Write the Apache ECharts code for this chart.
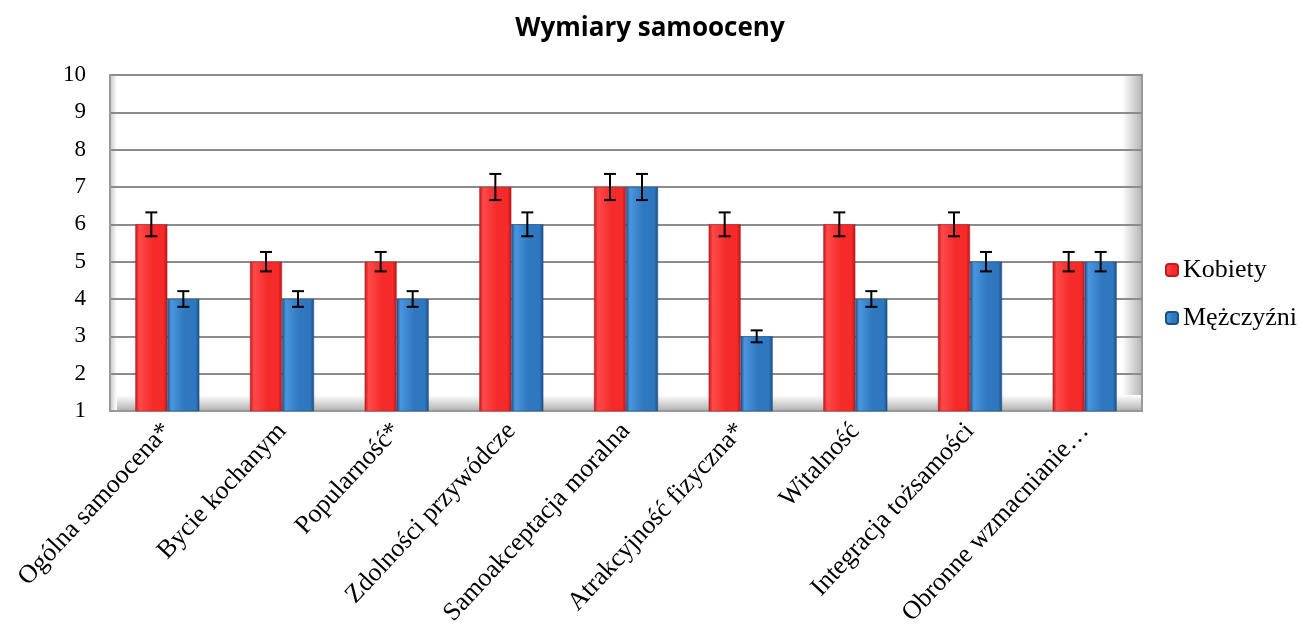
<!DOCTYPE html>
<html>
<head>
<meta charset="utf-8">
<script src="https://cdn.jsdelivr.net/npm/echarts@6/dist/echarts.min.js"></script>
<style>
  html, body { margin: 0; padding: 0; background: #fff; }
  #main { width: 1300px; height: 630px; }
</style>
</head>
<body>
<div id="main"></div>
<script>
// dane
const categories = [
  'Ogólna samoocena*', 'Bycie kochanym', 'Popularność*', 'Zdolności przywódcze',
  'Samoakceptacja moralna', 'Atrakcyjność fizyczna*', 'Witalność',
  'Integracja tożsamości', 'Obronne wzmacnianie…'
];
const kobiety = [6, 5, 5, 7, 7, 6, 6, 6, 5];
const mezczyzni = [4, 4, 4, 6, 7, 3, 4, 5, 5];
const kobietyErr = [0.32, 0.26, 0.26, 0.35, 0.35, 0.32, 0.32, 0.32, 0.26];
const mezczyzniErr = [0.21, 0.21, 0.21, 0.32, 0.35, 0.16, 0.21, 0.26, 0.26];
const yTicks = { min: 1, max: 10, interval: 1 };

const BAR_W = 32;
const serif = '"Liberation Serif", "Times New Roman", serif';

const myChart = echarts.init(document.getElementById('main'));

function barGradient(light, mid, dark) {
  return new echarts.graphic.LinearGradient(0, 0, 1, 0, [
    { offset: 0, color: dark },
    { offset: 0.12, color: light },
    { offset: 0.55, color: mid },
    { offset: 0.88, color: mid },
    { offset: 1, color: dark }
  ]);
}

// słupki błędów
function errorSeries(values, errs, offset) {
  return {
    type: 'custom',
    silent: true,
    z: 10,
    data: values.map((v, i) => [i, v, errs[i]]),
    encode: { x: 0, y: 1 },
    renderItem: function (params, api) {
      const i = api.value(0), v = api.value(1), e = api.value(2);
      const top = api.coord([i, v + e]);
      const bot = api.coord([i, v - e]);
      const x = top[0] + offset;
      const half = 6;
      const style = { stroke: '#000', lineWidth: 2 };
      return {
        type: 'group',
        children: [
          { type: 'line', shape: { x1: x, y1: top[1], x2: x, y2: bot[1] }, style },
          { type: 'line', shape: { x1: x - half, y1: top[1], x2: x + half, y2: top[1] }, style },
          { type: 'line', shape: { x1: x - half, y1: bot[1], x2: x + half, y2: bot[1] }, style }
        ]
      };
    }
  };
}

const option = {
  animation: false,
  title: {
    text: 'Wymiary samooceny',
    left: 'center',
    top: 11,
    textStyle: { fontFamily: '"Open Sans", "Noto Sans", sans-serif', fontWeight: 'bold', fontSize: 26, color: '#000' }
  },
  // cień "ściany" i "podłogi" jak w wykresie 3D
  graphic: [
    {
      type: 'rect', z: -10, silent: true,
      shape: { x: 1122, y: 76, width: 19, height: 335 },
      style: { fill: new echarts.graphic.LinearGradient(0, 0, 1, 0, [
        { offset: 0, color: '#ffffff' }, { offset: 1, color: '#b8b8b8' }
      ]) }
    },
    {
      type: 'rect', z: -10, silent: true,
      shape: { x: 111, y: 395, width: 1030, height: 16 },
      style: { fill: new echarts.graphic.LinearGradient(0, 0, 0, 1, [
        { offset: 0, color: '#ffffff' }, { offset: 1, color: '#b0b0b0' }
      ]) }
    },
    {
      type: 'rect', z: -10, silent: true,
      shape: { x: 111, y: 76, width: 6, height: 335 },
      style: { fill: new echarts.graphic.LinearGradient(0, 0, 1, 0, [
        { offset: 0, color: '#d0d0d0' }, { offset: 1, color: '#ffffff' }
      ]) }
    }
  ],
  legend: {
    orient: 'vertical',
    left: 1160,
    top: 252,
    itemWidth: 12,
    itemHeight: 12,
    itemGap: 22,
    data: ['Kobiety', 'Mężczyźni'],
    textStyle: { fontFamily: serif, fontSize: 26, color: '#000' }
  },
  grid: {
    left: 110,
    right: 158,
    top: 75,
    bottom: 219,
    show: true,
    borderColor: '#999',
    borderWidth: 2,
    backgroundColor: 'transparent'
  },
  xAxis: {
    type: 'category',
    data: categories,
    axisTick: { show: false },
    axisLine: { lineStyle: { color: '#999', width: 2 } },
    axisLabel: {
      rotate: 47,
      margin: 16,
      interval: 0,
      fontFamily: serif,
      fontSize: 26,
      color: '#000'
    }
  },
  yAxis: {
    type: 'value',
    min: yTicks.min,
    max: yTicks.max,
    interval: yTicks.interval,
    axisLine: { show: true, lineStyle: { color: '#999', width: 2 } },
    axisTick: { show: false },
    axisLabel: { margin: 24, fontFamily: serif, fontSize: 23, color: '#000' },
    splitLine: { lineStyle: { color: '#8c8c8c', width: 2 } }
  },
  series: [
    {
      name: 'Kobiety',
      type: 'bar',
      data: kobiety,
      barWidth: BAR_W,
      barGap: '0%',
      itemStyle: {
        color: barGradient('#ff4a4a', '#f52a2a', '#b81818'),
        borderColor: '#c01c1c',
        borderWidth: 0.5
      }
    },
    {
      name: 'Mężczyźni',
      type: 'bar',
      data: mezczyzni,
      barWidth: BAR_W,
      barGap: '0%',
      itemStyle: {
        color: barGradient('#4a95dd', '#2f78c0', '#1d4f85'),
        borderColor: '#1d4f85',
        borderWidth: 0.5
      }
    },
    errorSeries(kobiety, kobietyErr, -BAR_W / 2),
    errorSeries(mezczyzni, mezczyzniErr, BAR_W / 2)
  ]
};

myChart.setOption(option);
</script>
</body>
</html>
